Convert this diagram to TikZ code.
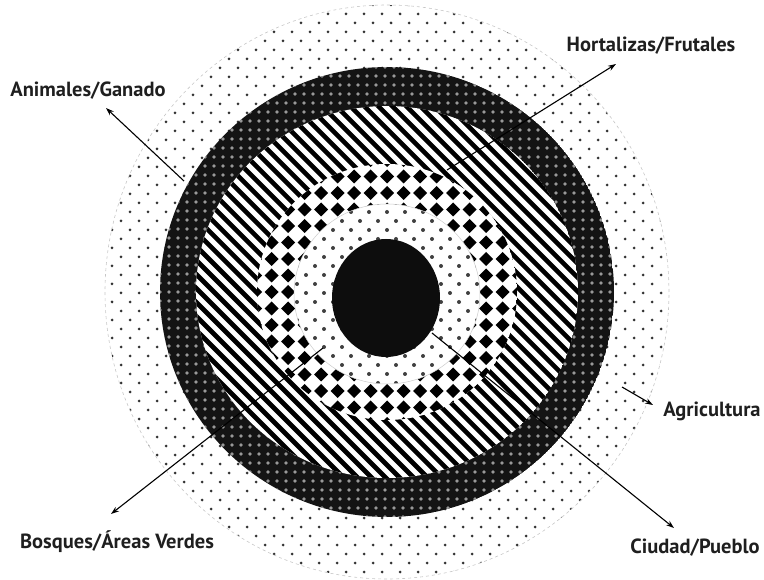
\documentclass[tikz,border=0pt]{standalone}
\usepackage{fontspec}
\setmainfont{PT Sans}
\usepackage{tikz}
\usetikzlibrary{arrows.meta}
\definecolor{dotgray}{gray}{0.2}
\definecolor{ringblack}{gray}{0.08}
\definecolor{ringdot}{gray}{0.6}

\begin{document}
\begin{tikzpicture}[x=1pt,y=-1pt,
  lbl/.style={font=\fontsize{20.5}{24}\selectfont\bfseries, text=black!88, inner sep=0pt, anchor=base},
  link/.style={line width=1.1pt, -{Stealth[length=8pt,width=5.5pt]}}]
\useasboundingbox (0,0) rectangle (764,580);
\coordinate (hub) at (387,292);
\coordinate (core) at (387,294);

% outer ring: agricultura (dotted)
\begin{scope}
\clip (hub) ellipse [x radius=282pt, y radius=287pt];
\foreach \y in {5,23,...,580} \foreach \x in {103,121,...,670} \fill[dotgray] (\x,\y) circle (1.5pt);
\foreach \y in {14,32,...,580} \foreach \x in {112,130,...,670} \fill[dotgray] (\x,\y) circle (1.5pt);
\end{scope}
\draw[gray!45, dashed, line width=0.6pt] (hub) ellipse [x radius=282pt, y radius=287pt];

% dark ring: animales/ganado
\begin{scope}
\clip (hub) ellipse [x radius=227pt, y radius=225pt];
\fill[ringblack] (hub) ellipse [x radius=227pt, y radius=225pt];
\foreach \y in {67,76,...,520} \foreach \x in {160,169,...,615} \fill[ringdot] (\x,\y) circle (1.8pt);
\end{scope}

% striped ring: hortalizas/frutales
\begin{scope}
\clip (hub) ellipse [x radius=191pt, y radius=186pt];
\fill[white] (hub) ellipse [x radius=191pt, y radius=186pt];
\foreach \k in {-302,-288,...,480} \draw[line width=4.6pt] (\k,0) -- ++(600,600);
\end{scope}

% diamond ring: bosques/areas verdes
\begin{scope}
\clip (hub) ellipse [x radius=130pt, y radius=128pt];
\fill[white] (hub) ellipse [x radius=130pt, y radius=128pt];
\foreach \x in {238.5,255,...,540} \foreach \y in {143.5,160,...,440}
  \fill[shift={(\x,\y)}] (-7,0) -- (0,-7) -- (7,0) -- (0,7) -- cycle;
\end{scope}

% inner dotted zone
\fill[white] (core) ellipse [x radius=93pt, y radius=90pt];
\begin{scope}
\clip (core) ellipse [x radius=93pt, y radius=90pt];
\foreach \y in {203,221,...,390} \foreach \x in {288,306,...,490} \fill[black!75] (\x,\y) circle (2pt);
\foreach \y in {212,230,...,390} \foreach \x in {297,315,...,490} \fill[black!75] (\x,\y) circle (2pt);
\end{scope}
\draw[gray!40, line width=0.5pt] (core) ellipse [x radius=93pt, y radius=90pt];

% centre: ciudad/pueblo
\fill[black!95] (386,298) ellipse [x radius=54pt, y radius=59pt];

% labels
\node[lbl] (animales) at (88,97) {Animales/Ganado};
\node[lbl] (hortalizas) at (651,52) {Hortalizas/Frutales};
\node[lbl] (bosques) at (117,548) {Bosques/Áreas Verdes};
\node[lbl] (ciudad) at (695,553) {Ciudad/Pueblo};
\node[lbl] (agricultura) at (712,417) {Agricultura};

% arrows
\coordinate (animales-from) at (184,181);
\coordinate (animales-to) at (106,108);
\coordinate (hortalizas-from) at (447,170);
\coordinate (hortalizas-to) at (616,64);
\coordinate (bosques-from) at (323,348);
\coordinate (bosques-to) at (111,514);
\coordinate (ciudad-from) at (432,333);
\coordinate (ciudad-to) at (674,528);
\coordinate (agricultura-from) at (622,387);
\coordinate (agricultura-to) at (653,405);
\foreach \n in {animales, hortalizas, bosques, ciudad, agricultura}
  \draw[link] (\n-from) -- (\n-to);
\end{tikzpicture}
\end{document}
